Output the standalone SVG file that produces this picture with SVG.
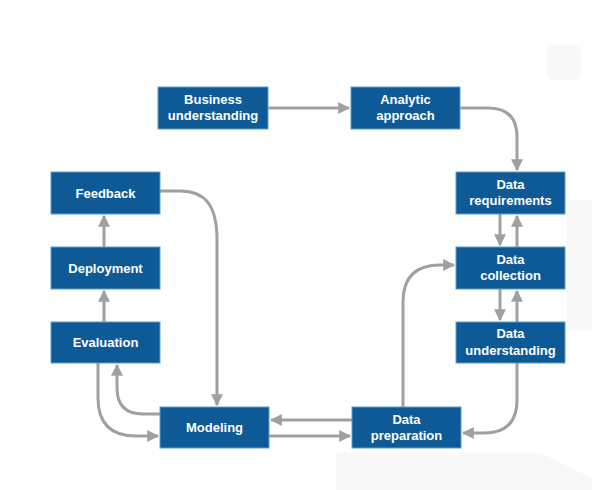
<svg xmlns="http://www.w3.org/2000/svg" width="592" height="490" viewBox="0 0 592 490">
<style>
.box{fill:#0e5a97;stroke:#5a9fd0;stroke-width:1}
.t{font-family:"Liberation Sans",Arial,sans-serif;font-weight:bold;font-size:13px;fill:#ffffff;text-anchor:middle}
.c{fill:none;stroke:#a0a0a0;stroke-width:3}
.bg{fill:#f8f8f8}
</style>
<defs>
<marker id="ah" viewBox="0 0 10 10" refX="9" refY="5" markerWidth="4" markerHeight="4" markerUnits="strokeWidth" orient="auto">
<path d="M0,0 L10,5 L0,10 Z" fill="#a0a0a0"/>
</marker>
</defs>
<rect width="592" height="490" fill="#ffffff"/>
<g id="background">
<rect class="bg" x="546" y="45" width="35" height="35" rx="8"/>
<rect class="bg" x="567" y="200" width="25" height="130"/>
<path class="bg" d="M336,453 L540,453 L592,478 L592,490 L336,490 Z"/>
</g>
<g id="connectors">
<path class="c" d="M268,108 H349" marker-end="url(#ah)"/>
<path class="c" d="M460,108 H488 Q517,108 517,137 V170" marker-end="url(#ah)"/>
<path class="c" d="M500,214 V245" marker-end="url(#ah)"/>
<path class="c" d="M517,247 V216" marker-end="url(#ah)"/>
<path class="c" d="M500,289 V320" marker-end="url(#ah)"/>
<path class="c" d="M517,322 V291" marker-end="url(#ah)"/>
<path class="c" d="M517,363 V400 Q517,433 484,433 H463" marker-end="url(#ah)"/>
<path class="c" d="M403,407 V302 Q403,265 440,265 H454" marker-end="url(#ah)"/>
<path class="c" d="M352,420 H271" marker-end="url(#ah)"/>
<path class="c" d="M269,436 H350" marker-end="url(#ah)"/>
<path class="c" d="M160,191 H180 C205,191 217,205 217,240 V405" marker-end="url(#ah)"/>
<path class="c" d="M98,363 V398 Q98,436 136,436 H158" marker-end="url(#ah)"/>
<path class="c" d="M160,414 H143 Q117,414 117,388 V365" marker-end="url(#ah)"/>
<path class="c" d="M104,247 V216" marker-end="url(#ah)"/>
<path class="c" d="M104,322 V291" marker-end="url(#ah)"/>
</g>
<g id="business-understanding">
<rect class="box" x="158" y="87" width="110" height="42"/>
<text class="t" x="213" y="104">Business</text>
<text class="t" x="213" y="120">understanding</text>
</g>
<g id="analytic-approach">
<rect class="box" x="351" y="87" width="109" height="42"/>
<text class="t" x="405.5" y="104">Analytic</text>
<text class="t" x="405.5" y="120">approach</text>
</g>
<g id="data-requirements">
<rect class="box" x="456" y="172" width="109" height="42"/>
<text class="t" x="510.5" y="189">Data</text>
<text class="t" x="510.5" y="205">requirements</text>
</g>
<g id="data-collection">
<rect class="box" x="456" y="247" width="109" height="42"/>
<text class="t" x="510.5" y="264">Data</text>
<text class="t" x="510.5" y="280">collection</text>
</g>
<g id="data-understanding">
<rect class="box" x="456" y="322" width="109" height="41"/>
<text class="t" x="510.5" y="338">Data</text>
<text class="t" x="510.5" y="355">understanding</text>
</g>
<g id="data-preparation">
<rect class="box" x="352" y="407" width="109" height="41"/>
<text class="t" x="406.5" y="424">Data</text>
<text class="t" x="406.5" y="440">preparation</text>
</g>
<g id="modeling">
<rect class="box" x="160" y="407" width="109" height="41"/>
<text class="t" x="214.5" y="432">Modeling</text>
</g>
<g id="evaluation">
<rect class="box" x="51" y="322" width="109" height="41"/>
<text class="t" x="105.5" y="347">Evaluation</text>
</g>
<g id="deployment">
<rect class="box" x="51" y="247" width="109" height="42"/>
<text class="t" x="105.5" y="273">Deployment</text>
</g>
<g id="feedback">
<rect class="box" x="51" y="172" width="109" height="42"/>
<text class="t" x="105.5" y="198">Feedback</text>
</g>
</svg>
